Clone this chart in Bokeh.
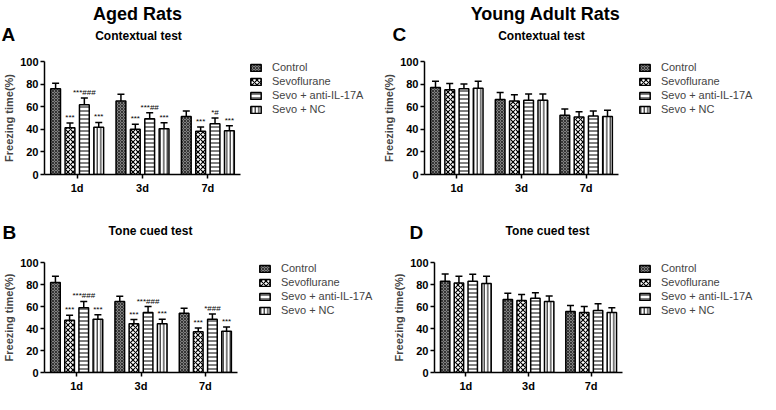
from bokeh.plotting import figure
from bokeh.models import (ColumnDataSource, FactorRange, Range1d, FixedTicker, Whisker,
                          TeeHead, Legend, LegendItem)
from bokeh.transform import dodge
from bokeh.core.properties import value
from bokeh.layouts import column, row
from bokeh.embed import file_html
from bokeh.resources import INLINE

# ---------------- data ----------------
days = ["1d", "3d", "7d"]
groups = ["Control", "Sevoflurane", "Sevo + anti-IL-17A", "Sevo + NC"]
yticks = [0, 20, 40, 60, 80, 100]

# Panel A: Aged rats, contextual test (rows follow `groups`)
A_mean = [[75.8, 65.0, 51.3], [41.3, 40.0, 38.3], [61.8, 49.3, 45.0], [41.8, 40.5, 38.8]]
A_err = [[5.0, 6.0, 5.0], [4.3, 4.5, 3.8], [5.8, 5.3, 5.0], [4.3, 5.3, 4.3]]
A_sig = [["", "", ""], ["***", "***", "***"], ["***###", "***##", "*#"], ["***", "***", "***"]]

# Panel B: Aged rats, tone cued test
B_mean = [[81.8, 64.5, 53.8], [47.5, 44.3, 37.0], [58.8, 54.5, 48.3], [48.3, 44.3, 37.5]]
B_err = [[5.8, 4.8, 4.5], [4.5, 3.8, 3.5], [5.8, 5.5, 4.8], [4.3, 4.0, 3.8]]
B_sig = [["", "", ""], ["***", "***", "***"], ["***###", "***###", "*###"], ["***", "***", "***"]]

# Panel C: Young adult rats, contextual test
C_mean = [[77.0, 66.3, 52.5], [75.0, 65.0, 50.8], [75.8, 65.8, 51.8], [76.3, 65.8, 51.3]]
C_err = [[5.5, 6.3, 5.5], [5.5, 5.5, 4.8], [4.3, 5.5, 4.5], [6.3, 5.5, 5.5]]
C_sig = [["", "", ""], ["", "", ""], ["", "", ""], ["", "", ""]]

# Panel D: Young adult rats, tone cued test
D_mean = [[83.0, 66.3, 55.5], [81.3, 65.5, 54.5], [83.0, 67.5, 56.3], [80.8, 64.5, 54.5]]
D_err = [[6.5, 5.8, 5.3], [6.3, 5.3, 5.5], [6.3, 5.0, 6.3], [6.8, 5.0, 4.3]]
D_sig = [["", "", ""], ["", "", ""], ["", "", ""], ["", "", ""]]

# ---------------- styles ----------------
FONT = "Liberation Sans"
offsets = [-0.33, -0.11, 0.11, 0.33]
BAR_W = 0.15
styles = [
    dict(fill_color="#808080", hatch_pattern="diagonal_cross", hatch_color="#222222",
         hatch_scale=3, hatch_weight=0.8),
    dict(fill_color="white", hatch_pattern="diagonal_cross", hatch_color="black",
         hatch_scale=5, hatch_weight=1.2),
    dict(fill_color="white", hatch_pattern="horizontal_line", hatch_color="black",
         hatch_scale=4, hatch_weight=1),
    dict(fill_color="white", hatch_pattern="vertical_line", hatch_color="black",
         hatch_scale=3.5, hatch_weight=1),
]


def blank(width, height, **kw):
    f = figure(width=width, height=height, output_backend="svg", toolbar_location=None,
               x_axis_type=None, y_axis_type=None,
               x_range=Range1d(0, 1), y_range=Range1d(0, 1), **kw)
    f.outline_line_color = None
    f.grid.visible = False
    return f


def strip(width, height, texts):
    f = blank(width, height, min_border=0)
    f.x_range = Range1d(0, width)
    f.y_range = Range1d(0, height)
    for txt, x, y, size, align in texts:
        f.text(x=[x], y=[y], text=[txt], text_font=value(FONT), text_font_style="bold",
               text_font_size=size, text_align=align, text_baseline="alphabetic")
    return f


def legend_fig(width, height, lx, ly):
    # the frame starts at (lx, ly) from the top-left; the legend sits at its top-left
    f = blank(width, height, min_border_left=lx, min_border_top=ly,
              min_border_right=0, min_border_bottom=0)
    items = []
    for gi, g in enumerate(groups):
        # legend key only: a zero-size bar, so nothing shows in the plot area
        src = ColumnDataSource(dict(x=[0.5], top=[0.0]))
        r = f.vbar(x="x", top="top", width=0.0, source=src, line_color="black",
                   line_width=1.5, **styles[gi])
        items.append(LegendItem(label=g, renderers=[r]))
    leg = Legend(items=items, location="top_left", orientation="vertical",
                 glyph_width=13, glyph_height=9, label_height=10, spacing=2,
                 padding=0, margin=0, border_line_color=None, background_fill_alpha=0,
                 label_text_font=FONT, label_text_font_size="11px",
                 label_standoff=10)
    f.add_layout(leg, "center")
    return f


def panel(mean, err, sig, width, height, bl, br, bt, bb):
    p = figure(width=width, height=height, output_backend="svg", toolbar_location=None,
               x_range=FactorRange(factors=days), y_range=Range1d(0, 100),
               min_border_left=bl, min_border_right=br, min_border_top=bt,
               min_border_bottom=bb)
    p.outline_line_color = None
    p.xgrid.grid_line_color = None
    p.ygrid.grid_line_color = None

    for gi, g in enumerate(groups):
        hi = [m + e for m, e in zip(mean[gi], err[gi])]
        src = ColumnDataSource(dict(day=days, val=mean[gi], hi=hi, sig=sig[gi]))
        xd = dodge("day", offsets[gi], range=p.x_range)
        p.vbar(x=xd, top="val", width=BAR_W, source=src,
               line_color="black", line_width=1.5, **styles[gi])
        w = Whisker(base=xd, upper="hi", lower="val", source=src,
                    line_width=1.5, line_color="black",
                    upper_head=TeeHead(size=7, line_width=1.5, line_color="black"),
                    lower_head=None)
        p.add_layout(w)
        p.text(x=xd, y="hi", text="sig", source=src, text_font=value(FONT),
               text_font_size="8px", text_align="center", text_baseline="bottom",
               y_offset=-1)

    for ax in (p.xaxis[0], p.yaxis[0]):
        ax.axis_line_width = 1.5
        ax.major_tick_line_width = 1.5
        ax.major_tick_out = 4
        ax.major_tick_in = 0
        ax.minor_tick_line_color = None
        ax.major_label_text_font = FONT
        ax.major_label_text_font_style = "bold"
        ax.major_label_text_font_size = "11px"
        ax.major_label_text_color = "black"
        ax.axis_line_color = "black"
        ax.major_tick_line_color = "black"
    p.xaxis.major_label_standoff = 3
    p.yaxis.major_label_standoff = 2
    p.yaxis.ticker = FixedTicker(ticks=yticks)
    p.yaxis.axis_label = "Freezing time(%)"
    p.yaxis.axis_label_text_font = FONT
    p.yaxis.axis_label_text_font_style = "bold"
    p.yaxis.axis_label_text_font_size = "11px"
    p.yaxis.axis_label_standoff = 2
    return p


# top-left quadrant (A)
sA = strip(380, 44, [("Aged Rats", 137, 31, "18px", "center"),
                     ("A", 1, 10, "19px", "left"),
                     ("Contextual test", 138, 9, "12px", "center")])
pA = panel(A_mean, A_err, A_sig, 242, 152, 38, 2, 6, 18)
lA = legend_fig(138, 152, 7, 17)

# top-right quadrant (C)
sC = strip(380, 44, [("Young Adult Rats", 165, 31, "18px", "center"),
                     ("C", 12, 10, "19px", "left"),
                     ("Contextual test", 161, 9, "12px", "center")])
pC = panel(C_mean, C_err, C_sig, 240, 152, 40, 2, 6, 18)
lC = legend_fig(140, 152, 18, 17)

# bottom-left quadrant (B)
sB = strip(380, 46, [("B", 2, 10, "19px", "left"),
                     ("Tone cued test", 150, 12, "12px", "center")])
pB = panel(B_mean, B_err, B_sig, 239, 152, 44, 2, 6, 20)
lB = legend_fig(141, 152, 19, 20)

# bottom-right quadrant (D)
sD = strip(380, 46, [("D", 29, 10, "19px", "left"),
                     ("Tone cued test", 167, 12, "12px", "center")])
pD = panel(D_mean, D_err, D_sig, 244, 152, 54, 2, 6, 20)
lD = legend_fig(136, 152, 14, 20)

layout = column(
    row(column(sA, row(pA, lA)), column(sC, row(pC, lC))),
    row(column(sB, row(pB, lB)), column(sD, row(pD, lD))),
)
open("out.html", "w").write(file_html(layout, INLINE))
